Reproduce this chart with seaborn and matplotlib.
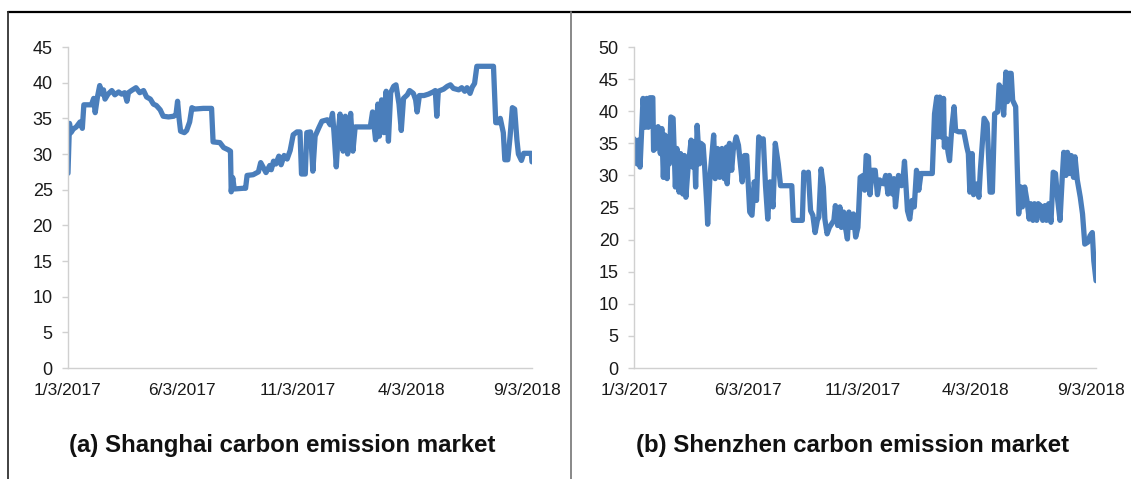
import pandas as pd
import matplotlib
matplotlib.use('Agg')
import matplotlib.pyplot as plt
from matplotlib.lines import Line2D
import seaborn as sns

start = pd.Timestamp('2017-01-03')

# Shanghai carbon price (days since 1/3/2017, price)
sh_days = [0, 2, 4, 7, 11, 16, 19, 21, 31, 34, 36, 39, 42, 45, 47, 49, 53, 58, 62, 67,
           71, 75, 78, 80, 84, 90, 95, 100, 104, 109, 113, 117, 122, 126, 133, 140, 143, 145, 147, 149,
           154, 157, 161, 164, 167, 179, 190, 192, 201, 206, 212, 215, 216, 218, 220, 232, 235, 237, 245, 252,
           255, 259, 262, 267, 269, 272, 275, 279, 282, 286, 290, 294, 298, 303, 307, 309, 314, 316, 321, 324,
           327, 332, 336, 343, 347, 350, 352, 355, 358, 360, 364, 367, 370, 374, 377, 380, 400, 403, 407, 410,
           412, 415, 418, 421, 424, 427, 431, 434, 438, 441, 444, 449, 452, 457, 460, 462, 465, 471, 477, 483,
           486, 488, 490, 497, 502, 506, 510, 517, 521, 525, 528, 532, 535, 538, 541, 563, 566, 570, 572, 576,
           578, 582, 585, 588, 591, 594, 596, 600, 603, 613, 614]
sh_price = [27.3, 34.3, 33.0, 33.5, 33.8, 34.5, 33.6, 36.9, 36.9, 37.8, 35.8, 38.0, 39.6, 38.4, 39.0, 37.7, 38.4, 38.9, 38.3, 38.7,
            38.4, 38.6, 37.4, 38.6, 38.9, 39.3, 38.6, 38.9, 38.0, 37.7, 37.0, 36.8, 36.2, 35.3, 35.2, 35.3, 35.6, 37.4, 35.0, 33.2,
            33.0, 33.3, 34.5, 36.5, 36.3, 36.4, 36.4, 31.7, 31.6, 30.9, 30.6, 30.4, 24.7, 26.7, 25.1, 25.2, 25.2, 27.0, 27.1, 27.5,
            28.8, 28.0, 27.4, 28.4, 27.8, 29.0, 28.6, 29.7, 28.5, 29.8, 29.3, 30.5, 32.7, 33.1, 33.1, 27.2, 27.2, 33.0, 33.1, 27.6,
            32.5, 33.7, 34.6, 34.8, 34.1, 35.7, 33.0, 28.2, 33.5, 35.6, 30.4, 35.3, 30.0, 35.7, 30.4, 33.8, 33.8, 35.9, 32.0, 37.0,
            32.5, 37.6, 33.0, 38.8, 31.8, 38.6, 39.5, 39.7, 37.0, 33.3, 37.8, 38.3, 38.9, 38.5, 37.6, 35.9, 38.2, 38.2, 38.4, 38.7,
            38.9, 35.3, 38.8, 39.1, 39.5, 39.7, 39.2, 39.0, 39.3, 38.8, 39.3, 38.5, 39.4, 39.9, 42.3, 42.3, 34.4, 34.4, 35.0, 33.0,
            29.2, 29.2, 32.5, 36.5, 36.3, 32.0, 30.0, 29.1, 30.1, 30.1, 28.9]

# Shenzhen carbon price (days since 1/3/2017, price)
sz_days = [0, 4, 6, 8, 12, 15, 17, 19, 21, 25, 26, 30, 32, 35, 37, 39, 41, 44, 46, 47,
           49, 52, 55, 57, 60, 62, 65, 67, 69, 72, 76, 78, 80, 82, 84, 87, 89, 92, 94, 97,
           98, 101, 106, 108, 111, 114, 117, 120, 123, 124, 127, 130, 132, 136, 139, 144, 147, 150, 154, 157,
           160, 163, 166, 169, 172, 175, 178, 181, 185, 188, 192, 195, 210, 212, 224, 226, 229, 232, 235, 238,
           241, 244, 246, 249, 252, 254, 257, 260, 266, 268, 271, 274, 276, 279, 281, 284, 286, 289, 292, 295,
           298, 301, 305, 307, 309, 312, 314, 317, 321, 324, 327, 332, 335, 338, 340, 344, 346, 348, 352, 356,
           358, 360, 364, 367, 370, 373, 376, 379, 382, 397, 400, 403, 404, 407, 409, 412, 413, 416, 418, 420,
           423, 426, 428, 432, 439, 443, 445, 447, 450, 452, 457, 459, 461, 466, 470, 474, 477, 480, 484, 486,
           489, 492, 495, 497, 499, 502, 504, 508, 510, 512, 515, 517, 520, 523, 526, 528, 531, 533, 536, 538,
           541, 544, 547, 549, 552, 555, 558, 561, 564, 567, 570, 572, 575, 577, 580, 582, 585, 587, 590, 594,
           597, 600, 604, 607, 610, 612, 615]
sz_price = [35.7, 31.8, 35.5, 31.3, 42.0, 37.5, 42.0, 37.5, 42.1, 42.1, 33.9, 34.4, 37.6, 33.4, 37.3, 29.7, 36.3, 29.5, 36.0, 31.8,
            39.1, 38.9, 28.2, 34.2, 27.4, 33.4, 27.1, 33.1, 26.6, 31.3, 35.5, 31.3, 35.2, 28.2, 37.8, 31.8, 35.0, 34.7, 31.3, 25.1,
            22.4, 29.7, 36.3, 29.5, 34.2, 29.7, 34.2, 29.5, 34.4, 28.7, 35.0, 30.8, 33.9, 36.0, 34.7, 29.0, 33.1, 33.1, 24.3, 23.8,
            29.0, 26.1, 36.0, 35.5, 35.7, 28.4, 23.2, 29.0, 25.1, 35.0, 31.8, 28.4, 28.4, 23.0, 23.0, 30.5, 30.0, 30.5, 24.5, 23.8,
            21.1, 23.0, 23.5, 31.0, 28.2, 23.2, 20.9, 21.9, 23.0, 25.3, 22.2, 25.1, 21.9, 24.3, 22.2, 20.1, 24.3, 21.9, 24.0, 20.4,
            21.9, 29.7, 30.0, 27.7, 33.1, 32.9, 27.0, 30.8, 30.8, 27.0, 29.3, 28.7, 30.0, 27.1, 30.0, 27.1, 29.5, 25.1, 30.0, 28.4,
            29.3, 32.2, 24.5, 23.2, 26.1, 25.1, 30.8, 27.7, 30.3, 30.3, 39.6, 42.2, 36.0, 42.2, 36.0, 42.0, 34.4, 35.7, 33.6, 32.3,
            37.5, 40.7, 37.0, 36.8, 36.8, 34.4, 33.4, 27.4, 33.4, 27.0, 28.7, 26.6, 30.8, 38.9, 38.1, 27.4, 27.4, 39.6, 39.9, 44.1,
            43.5, 39.4, 46.1, 41.5, 45.9, 45.9, 41.7, 40.7, 31.8, 24.0, 28.2, 25.1, 28.2, 26.1, 23.2, 25.6, 23.0, 25.6, 23.0, 25.6,
            25.3, 23.0, 25.3, 23.0, 25.6, 22.7, 30.5, 30.3, 26.1, 23.0, 29.7, 33.6, 30.0, 33.6, 30.3, 33.1, 29.7, 32.9, 29.3, 26.6,
            24.0, 19.3, 19.6, 20.6, 21.1, 16.7, 13.6]

tick_labels = ['1/3/2017', '6/3/2017', '11/3/2017', '4/3/2018', '9/3/2018']
titles = ['(a) Shanghai carbon emission market', '(b) Shenzhen carbon emission market']

sns.set_theme(style='white')
plt.rcParams['font.family'] = ['Liberation Sans', 'DejaVu Sans']

fig = plt.figure(figsize=(11.31, 4.79), dpi=100)
ax1 = fig.add_axes([0.0601, 0.2317, 0.4103, 0.6701])
ax2 = fig.add_axes([0.5606, 0.2317, 0.4085, 0.6701])

line_col = '#4a7ebb'
axis_col = '#d0d0d0'
tick_dates = pd.to_datetime(tick_labels, format='%m/%d/%Y')

panels = [(ax1, sh_days, sh_price, 45), (ax2, sz_days, sz_price, 50)]
for ax, days, price, ytop in panels:
    dates = start + pd.to_timedelta(days, unit='D')
    sns.lineplot(x=dates, y=price, ax=ax, color=line_col, linewidth=3.8,
                 estimator=None, sort=False)
    for l in ax.lines:
        l.set_solid_joinstyle('round')
        l.set_solid_capstyle('round')
    ax.set_xlim(start, dates[-1])
    ax.set_ylim(0, ytop)
    ax.set_yticks(range(0, ytop + 1, 5))
    ax.set_xticks(tick_dates)
    ax.set_xticklabels(tick_labels)
    ax.set_xlabel('')
    ax.set_ylabel('')
    for s in ['top', 'right']:
        ax.spines[s].set_visible(False)
    for s in ['left', 'bottom']:
        ax.spines[s].set_color(axis_col)
        ax.spines[s].set_linewidth(1.0)
    ax.tick_params(axis='y', left=True, length=4, width=1, color=axis_col,
                   pad=7, labelsize=13, labelcolor='#1a1a1a')
    ax.tick_params(axis='x', bottom=False, length=0, pad=11,
                   labelsize=12.5, labelcolor='#1a1a1a')

fig.text(0.2498, 0.069, titles[0], ha='center', va='center',
         fontsize=17.3, fontweight='bold', color='#111111')
fig.text(0.7542, 0.069, titles[1], ha='center', va='center',
         fontsize=17.3, fontweight='bold', color='#111111')

# frame lines around the two panels
fig.add_artist(Line2D([0.007, 1.0], [0.974, 0.974], color='black', lw=1.6))
fig.add_artist(Line2D([0.007, 0.007], [0.0, 0.974], color='#333333', lw=1.3))
fig.add_artist(Line2D([0.5045, 0.5045], [0.0, 0.974], color='#7f7f7f', lw=1.3))

fig.savefig('out.png', dpi=100)
